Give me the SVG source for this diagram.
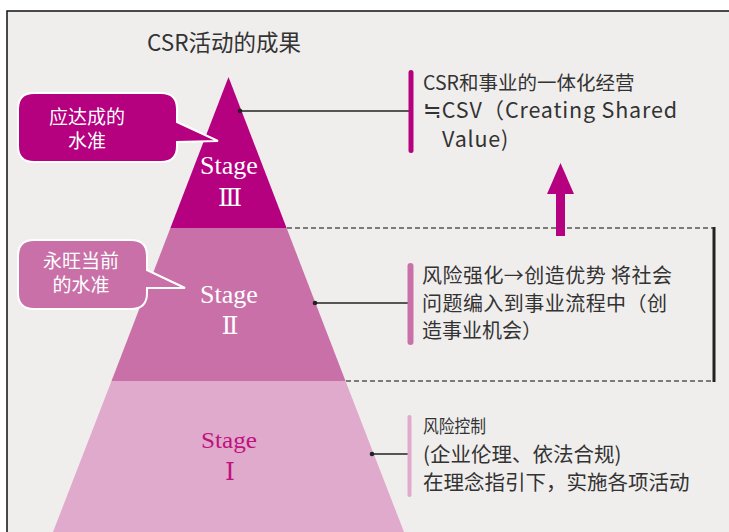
<svg xmlns="http://www.w3.org/2000/svg" width="729" height="532" viewBox="0 0 729 532">
<style>
.t{font-family:"Noto Sans CJK SC","Noto Sans",sans-serif;fill:#333;}
.w{font-family:"Noto Sans CJK SC","Noto Sans",sans-serif;fill:#fff;font-size:19px;text-anchor:middle;}
.st{font-family:"Liberation Serif","DejaVu Serif",serif;text-anchor:middle;}
.rn{font-family:"DejaVu Serif","Liberation Serif","Noto Sans CJK SC",serif;text-anchor:middle;}
.dash{stroke:#555;stroke-width:1.5;stroke-dasharray:5 3;fill:none;}
.con{stroke:#222;stroke-width:1.3;fill:none;}
</style>
<rect x="0" y="0" width="729" height="532" fill="#fff"/>
<rect x="7" y="11" width="730" height="530" fill="#f0eeed" stroke="#111" stroke-width="1.5"/>
<text class="t" x="147" y="51" font-size="22.5">CSR活动的成果</text>

<g id="stage3">
<polygon points="228.5,77 286.6,228 170.4,228" fill="#b5007f"/>
<text class="st" x="229" y="174" font-size="26" fill="#fff">Stage</text>
<text class="rn" x="230" y="206" font-size="25" fill="#fff">Ⅲ</text>
</g>
<g id="stage2">
<polygon points="170.4,228 286.6,228 345.5,381 111.5,381" fill="#c970a8"/>
<text class="st" x="229" y="303" font-size="26" fill="#fff">Stage</text>
<text class="rn" x="230" y="334" font-size="25" fill="#fff">Ⅱ</text>
</g>
<g id="stage1">
<polygon points="111.5,381 345.5,381 404,532 53,532" fill="#dfaacb"/>
<text class="st" x="229" y="448" font-size="24" fill="#c0117f" textLength="56" lengthAdjust="spacingAndGlyphs">Stage</text>
<text class="rn" x="230" y="480" font-size="25" fill="#c0117f">Ⅰ</text>
</g>

<g id="callout1">
<path d="M34,93 H161 Q177,93 177,109 V122 L218,141 L177,142 V146 Q177,162 161,162 H34 Q18,162 18,146 V109 Q18,93 34,93 Z" fill="#b5007f" stroke="#fff" stroke-width="2"/>
<text class="w" x="87" y="124">应达成的</text>
<text class="w" x="87" y="148">水准</text>
</g>
<g id="callout2">
<path d="M34,240 H131 Q147,240 147,256 V270 L185,288 L147,288 V293 Q147,309 131,309 H34 Q18,309 18,293 V256 Q18,240 34,240 Z" fill="#c970a8" stroke="#fff" stroke-width="2"/>
<text class="w" x="81" y="268">永旺当前</text>
<text class="w" x="81" y="292">的水准</text>
</g>

<g id="connectors">
<line class="dash" x1="287" y1="228" x2="713" y2="228"/>
<line class="dash" x1="346" y1="381" x2="713" y2="381"/>
<line x1="714" y1="227" x2="714" y2="382" stroke="#222" stroke-width="3"/>
<line class="con" x1="240" y1="111" x2="409" y2="111"/>
<circle cx="240" cy="111" r="2.3" fill="#222"/>
<line class="con" x1="315" y1="303" x2="408" y2="303"/>
<circle cx="315" cy="303" r="2.3" fill="#222"/>
<line class="con" x1="372" y1="454" x2="408" y2="454"/>
<circle cx="372" cy="454" r="2.3" fill="#222"/>
<rect x="556" y="190" width="9" height="46" fill="#b5007f"/>
<polygon points="560.5,163 574,194 547,194" fill="#b5007f"/>
</g>

<g id="text3">
<rect x="408.5" y="70" width="5" height="83" rx="2.5" fill="#b5007f"/>
<text class="t" x="423" y="90" font-size="19.5">CSR和事业的一体化经营</text>
<text class="t" x="423" y="118" font-size="21.5" textLength="254" lengthAdjust="spacing">≒CSV（Creating Shared</text>
<text class="t" x="442" y="147" font-size="21.5" letter-spacing="0.8">Value)</text>
</g>
<g id="text2">
<rect x="407.5" y="263" width="6" height="82" rx="3" fill="#c970a8"/>
<text class="t" x="422" y="283" font-size="20" textLength="250" lengthAdjust="spacing">风险强化→创造优势 将社会</text>
<text class="t" x="422" y="311" font-size="20" textLength="245" lengthAdjust="spacing">问题编入到事业流程中（创</text>
<text class="t" x="422" y="338" font-size="20">造事业机会）</text>
</g>
<g id="text1">
<rect x="407.5" y="415" width="4" height="82" rx="2" fill="#dfaacb"/>
<text class="t" x="423" y="433" font-size="18" textLength="63" lengthAdjust="spacingAndGlyphs">风险控制</text>
<text class="t" x="423" y="462" font-size="20.5">(企业伦理、依法合规)</text>
<text class="t" x="423" y="490" font-size="20.5">在理念指引下，实施各项活动</text>
</g>
</svg>
